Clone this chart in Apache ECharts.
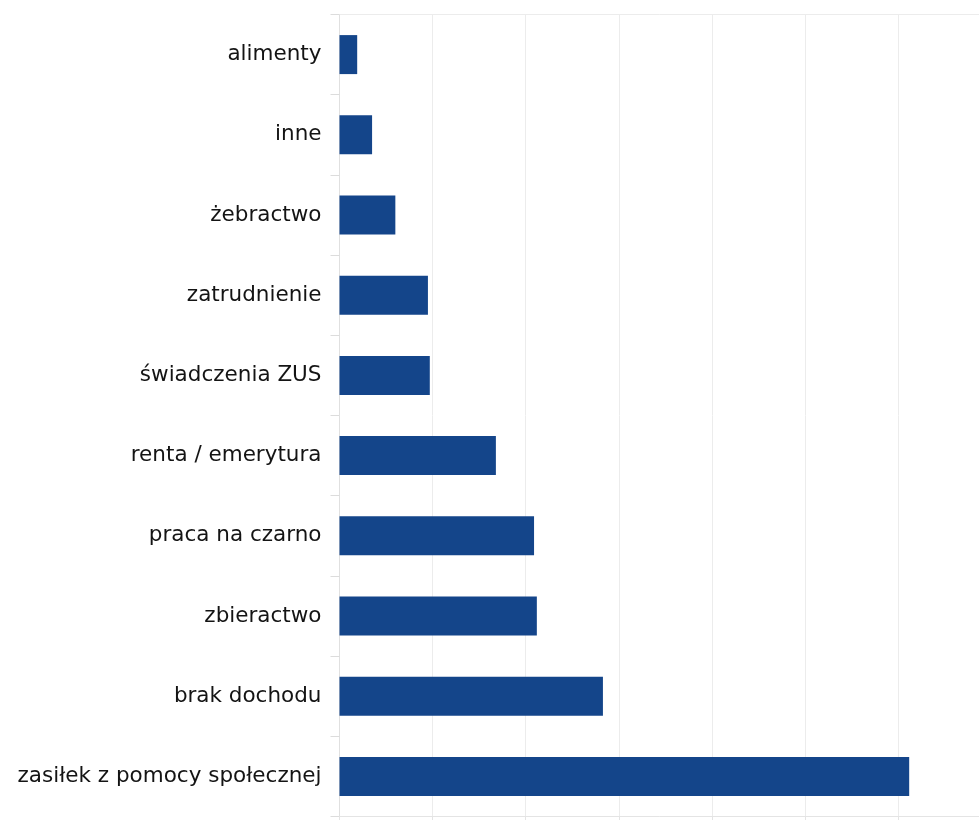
<!DOCTYPE html>
<html>
<head>
<meta charset="utf-8">
<script src="https://cdn.jsdelivr.net/npm/echarts@6/dist/echarts.min.js"></script>
<style>
    html, body { margin: 0; padding: 0; background: #fff; }
    #main { width: 979px; height: 820px; }
</style>
</head>
<body>
<div id="main"></div>
<script>
// źródła dochodu
var categories = ['alimenty', 'inne', 'żebractwo', 'zatrudnienie', 'świadczenia ZUS',
    'renta / emerytura', 'praca na czarno', 'zbieractwo', 'brak dochodu', 'zasiłek z pomocy społecznej'];
var values = [1.9, 3.5, 6.0, 9.5, 9.7, 16.8, 20.9, 21.2, 28.3, 61.2];
// the axis runs past the right edge of the picture
var axisMax = 68.7;
var axisStep = 10;

var myChart = echarts.init(document.getElementById('main'));

var option = {
    animation: false,
    grid: {
        left: 339.5,
        right: 0,
        top: 14.5,
        bottom: 3.5
    },
    xAxis: [{
        type: 'value',
        position: 'bottom',
        min: 0,
        max: axisMax,
        interval: axisStep,
        axisLabel: { show: false },
        axisLine: { show: true, lineStyle: { color: '#e4e4e4' } },
        axisTick: { show: true, length: 5, lineStyle: { color: '#e4e4e4' } },
        splitLine: { show: true, lineStyle: { color: '#ececec' } }
    }, {
        type: 'value',
        position: 'top',
        min: 0,
        max: axisMax,
        interval: axisStep,
        axisLabel: { show: false },
        axisLine: { show: true, lineStyle: { color: '#ececec' } },
        axisTick: { show: false },
        splitLine: { show: false }
    }],
    yAxis: {
        type: 'category',
        inverse: true,
        data: categories,
        axisLine: { show: true, lineStyle: { color: '#e0e0e0' } },
        axisTick: { show: true, length: 9, lineStyle: { color: '#dcdcdc' } },
        axisLabel: {
            margin: 18,
            color: '#141414',
            fontSize: 21.5,
            fontFamily: 'DejaVu Sans'
        }
    },
    series: [{
        type: 'bar',
        data: values,
        barWidth: 39,
        itemStyle: { color: '#14458a' }
    }]
};

myChart.setOption(option, true);
</script>
</body>
</html>
